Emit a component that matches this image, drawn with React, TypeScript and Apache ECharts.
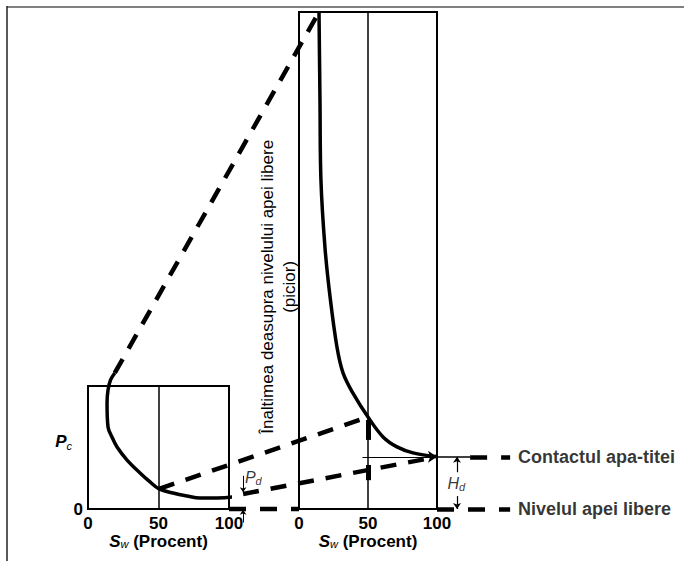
import React, { useEffect, useRef } from 'react';
import * as echarts from 'echarts';

const FONT = '"Liberation Sans", Arial, Helvetica, sans-serif';

// Left panel: capillary pressure curve (Sw in %, Pc relative)
const leftSw = [19, 16, 14.2, 13.5, 14.2, 17, 20.6, 27.7, 36.9, 44, 50.4, 60.3, 70.2, 79.4, 91.5, 102.8, 110];
const leftPc = [110.6, 104.9, 96.7, 86.2, 66.7, 58.5, 50.4, 39.8, 29.3, 22, 16.3, 13, 10.6, 8.9, 8.9, 9.8, 12.2];

// Right panel: height above free water level vs Sw
const rightSw = [14.5, 15.2, 15.9, 18.8, 22.5, 27.5, 31.9, 39.1, 50, 60.9, 71, 82.6, 100];
const rightH = [100, 82.3, 66.2, 52.7, 42.7, 32.6, 27.4, 23.3, 18.5, 14.5, 12.5, 11.3, 10.5];

const xTicks = [0, 50, 100];
const contactH = 10.5;
const levelNames = ['Contactul apa-titei', 'Nivelul apei libere'];
const levelValues = [contactH, 0];
const yTitle = 'Înaltimea deasupra nivelului apei libere\n(picior)';

// dashed links from left panel (from) to right panel (to)
const links = [
  { from: [19, 110.6], to: [14.5, 100], dash: [16, 12] },
  { from: [50.4, 16.3], to: [50, 18.5], dash: [16, 12] },
  { from: [110, 12.2], to: [100, 10.5], dash: [16, 12] },
  { from: [100, 0], to: [0, 0], dash: [17, 14] },
];

const black = '#000';

function axisX(gridIndex: number) {
  return {
    type: 'value',
    gridIndex,
    min: 0,
    max: 100,
    interval: 50,
    axisLine: { show: false },
    axisTick: { show: false },
    splitLine: { show: true, lineStyle: { color: black, width: 1.5 } },
    axisLabel: {
      color: black,
      fontFamily: FONT,
      fontWeight: 'bold',
      fontSize: 17,
      lineHeight: 16,
      margin: 6,
      formatter: (v: number) => (xTicks.includes(v) ? String(v) : ''),
    },
    name: '{s|S}{w|w}{p| (Procent)}',
    nameLocation: 'middle',
    nameGap: 24,
    nameMoveOverlap: false,
    nameTextStyle: {
      rich: {
        s: { fontFamily: FONT, fontWeight: 'bold', fontStyle: 'italic', fontSize: 17, lineHeight: 16, color: black },
        w: { fontFamily: FONT, fontStyle: 'italic', fontSize: 11, lineHeight: 8, verticalAlign: 'bottom', color: black },
        p: { fontFamily: FONT, fontWeight: 'bold', fontSize: 17, lineHeight: 16, color: black },
      },
    },
  };
}

const option: any = {
  animation: false,
  grid: [
    { left: 88, top: 386, width: 141, height: 123, show: true, borderColor: black, borderWidth: 2, backgroundColor: 'transparent' },
    { left: 299, top: 12, width: 138, height: 497, show: true, borderColor: black, borderWidth: 2, backgroundColor: 'transparent' },
  ],
  xAxis: [axisX(0), axisX(1)],
  yAxis: [
    {
      type: 'value',
      gridIndex: 0,
      min: 0,
      max: 100,
      interval: 100,
      axisLine: { show: false },
      axisTick: { show: false },
      splitLine: { show: false },
      axisLabel: {
        color: black,
        fontFamily: FONT,
        fontWeight: 'bold',
        fontSize: 17,
        margin: 5,
        formatter: (v: number) => (v === 0 ? '0' : ''),
      },
      name: '{p|P}{c|c}',
      nameLocation: 'middle',
      nameRotate: 0,
      nameGap: 16,
      nameMoveOverlap: false,
      nameTextStyle: {
        padding: [0, 0, 12, 0],
        rich: {
          p: { fontFamily: FONT, fontWeight: 'bold', fontStyle: 'italic', fontSize: 17, lineHeight: 20, color: black },
          c: { fontFamily: FONT, fontStyle: 'italic', fontSize: 11, lineHeight: 12, verticalAlign: 'bottom', color: black },
        },
      },
    },
    {
      type: 'value',
      gridIndex: 1,
      min: 0,
      max: 100,
      interval: 100,
      axisLine: { show: false },
      axisTick: { show: false },
      splitLine: { show: false },
      axisLabel: { show: false },
    },
  ],
  series: [
    {
      type: 'line',
      xAxisIndex: 0,
      yAxisIndex: 0,
      data: leftSw.map((x, i) => [x, leftPc[i]]),
      smooth: 0.35,
      showSymbol: false,
      symbol: 'none',
      clip: false,
      lineStyle: { color: black, width: 3.5 },
      z: 5,
    },
    {
      type: 'line',
      xAxisIndex: 1,
      yAxisIndex: 1,
      data: rightSw.map((x, i) => [x, rightH[i]]),
      smooth: 0.35,
      showSymbol: false,
      symbol: 'none',
      clip: false,
      lineStyle: { color: black, width: 3.5 },
      z: 5,
    },
    // Pd arrows (left panel)
    {
      type: 'lines',
      coordinateSystem: 'cartesian2d',
      xAxisIndex: 0,
      yAxisIndex: 0,
      clip: false,
      symbol: ['none', 'arrow'],
      symbolSize: 5,
      lineStyle: { color: black, width: 1, opacity: 1 },
      data: [
        { coords: [[110, 27], [110, 13.6]] },
        { coords: [[110, -11], [110, -0.6]] },
      ],
    },
    // Hd arrows, contact arrow (right panel)
    {
      type: 'lines',
      coordinateSystem: 'cartesian2d',
      xAxisIndex: 1,
      yAxisIndex: 1,
      clip: false,
      symbol: ['none', 'arrow'],
      symbolSize: 6,
      lineStyle: { color: black, width: 1.2, opacity: 1 },
      data: [
        { coords: [[114.5, 7.4], [114.5, contactH]] },
        { coords: [[114.5, 2.6], [114.5, 0]] },
        { coords: [[46, contactH], [100, contactH]], symbolSize: 9 },
      ],
    },
    {
      type: 'lines',
      coordinateSystem: 'cartesian2d',
      xAxisIndex: 1,
      yAxisIndex: 1,
      clip: false,
      lineStyle: { color: black, width: 1.5, opacity: 1 },
      data: [{ coords: [[100, contactH], [124, contactH]] }],
    },
    // thick marks at Sw = 50
    {
      type: 'lines',
      coordinateSystem: 'cartesian2d',
      xAxisIndex: 1,
      yAxisIndex: 1,
      clip: false,
      lineStyle: { color: black, width: 5, opacity: 1 },
      data: [
        { coords: [[50, 17.9], [50, 13.9]] },
        { coords: [[50, 8.85], [50, 5.8]] },
      ],
    },
    // dashed level lines to the right
    {
      type: 'lines',
      coordinateSystem: 'cartesian2d',
      xAxisIndex: 1,
      yAxisIndex: 1,
      clip: false,
      lineStyle: { color: black, width: 4.5, opacity: 1, type: [17, 14] },
      data: [
        { coords: [[124, contactH], [153, contactH]] },
        { coords: [[100, 0], [153, 0]] },
      ],
    },
    // level names
    {
      type: 'scatter',
      xAxisIndex: 1,
      yAxisIndex: 1,
      clip: false,
      symbolSize: 0,
      data: levelValues.map((v, i) => ({ value: [158.7, v], name: levelNames[i] })),
      label: {
        show: true,
        position: 'right',
        distance: 0,
        formatter: (p: any) => p.name,
        color: black,
        fontFamily: FONT,
        fontWeight: 'bold',
        fontSize: 18,
      },
    },
    // Hd label
    {
      type: 'scatter',
      xAxisIndex: 1,
      yAxisIndex: 1,
      clip: false,
      symbolSize: 0,
      data: [[114, 5.1]],
      label: {
        show: true,
        position: 'inside',
        formatter: '{h|H}{d|d}',
        rich: {
          h: { fontFamily: FONT, fontStyle: 'italic', fontSize: 16, lineHeight: 18, color: black },
          d: { fontFamily: FONT, fontStyle: 'italic', fontSize: 11, lineHeight: 11, verticalAlign: 'bottom', color: black },
        },
      },
    },
    // Pd label
    {
      type: 'scatter',
      xAxisIndex: 0,
      yAxisIndex: 0,
      clip: false,
      symbolSize: 0,
      data: [[111.3, 25.5]],
      label: {
        show: true,
        position: 'right',
        distance: 0,
        formatter: '{p|P}{d|d}',
        rich: {
          p: { fontFamily: FONT, fontStyle: 'italic', fontSize: 16, lineHeight: 18, color: black },
          d: { fontFamily: FONT, fontStyle: 'italic', fontSize: 11, lineHeight: 11, verticalAlign: 'bottom', color: black },
        },
      },
    },
  ],
};

export default function App() {
  const ref = useRef<HTMLDivElement>(null);
  useEffect(() => {
    if (!ref.current) return;
    const chart = echarts.init(ref.current, null, { renderer: 'svg' });
    chart.setOption(option);
    const toL = (p: number[]) => chart.convertToPixel({ gridIndex: 0 } as any, p) as number[];
    const toR = (p: number[]) => chart.convertToPixel({ gridIndex: 1 } as any, p) as number[];
    const linkEls = links.map((l) => {
      const a = toL(l.from);
      const b = toR(l.to);
      return {
        type: 'line',
        z: 10,
        shape: { x1: a[0], y1: a[1], x2: b[0], y2: b[1] },
        style: { stroke: black, lineWidth: 4.5, lineDash: l.dash },
      };
    });
    const mid = toR([0, 44.7]);
    chart.setOption({
      graphic: [
        { type: 'line', shape: { x1: 7, y1: 7, x2: 684, y2: 7 }, style: { stroke: '#808080', lineWidth: 2 } },
        { type: 'line', shape: { x1: 7, y1: 6, x2: 7, y2: 561 }, style: { stroke: '#222', lineWidth: 1.5 } },
        ...linkEls,
        {
          type: 'text',
          x: mid[0] - 21,
          y: mid[1],
          rotation: Math.PI / 2,
          style: {
            text: yTitle,
            fill: black,
            font: `17px ${FONT}`,
            align: 'center',
            verticalAlign: 'middle',
            lineHeight: 22,
          },
        },
      ],
    });
    return () => chart.dispose();
  }, []);
  return <div ref={ref} style={{ position: 'absolute', left: 0, top: 0, width: 684, height: 561 }} />;
}
